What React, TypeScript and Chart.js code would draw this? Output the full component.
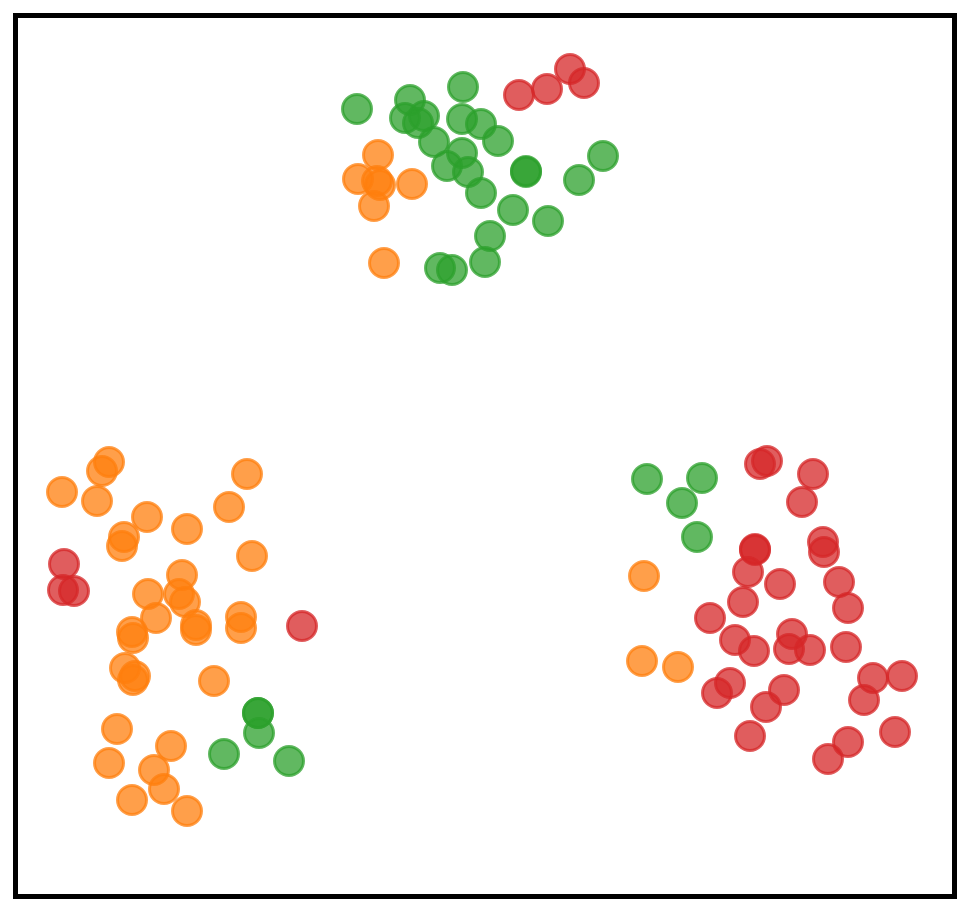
import React, { useEffect, useRef } from "react";
import { Chart, registerables } from "chart.js";

Chart.register(...registerables);

// Point positions (x, y in plot units; y grows downward)
const orangeX = [378, 358, 377, 380, 412, 374, 384,
  109, 102, 62, 97, 147, 124, 122, 187, 229, 247, 252, 182, 148, 179, 185, 156, 196, 196, 241, 241, 132, 133, 125, 133, 135, 214, 117, 109, 171, 154, 164, 132, 187,
  644, 642, 678];
const orangeY = [155, 179, 181, 185, 184, 206, 263,
  462, 471, 492, 501, 517, 537, 546, 529, 507, 474, 556, 575, 594, 594, 602, 618, 625, 630, 617, 628, 632, 638, 668, 680, 676, 681, 729, 763, 746, 770, 789, 800, 811,
  576, 661, 667];

const greenX = [357, 463, 410, 405, 424, 418, 434, 462, 481, 498, 462, 447, 468, 481, 526, 526, 579, 603, 513, 548, 490, 485, 440, 452,
  258, 258, 259, 224, 289,
  647, 702, 682, 697];
const greenY = [109, 87, 100, 118, 116, 123, 142, 119, 124, 141, 153, 166, 172, 193, 171, 172, 180, 156, 210, 221, 236, 262, 268, 270,
  713, 713, 733, 754, 761,
  479, 478, 503, 537];

const redX = [519, 547, 570, 584,
  64, 63, 74, 302,
  760, 767, 813, 802, 755, 755, 823, 824, 748, 780, 839, 848, 743, 710, 735, 754, 792, 789, 810, 846, 730, 717, 784, 766, 873, 902, 864, 750, 848, 828, 895];
const redY = [95, 89, 69, 83,
  564, 590, 591, 626,
  464, 461, 474, 502, 549, 550, 542, 552, 572, 584, 582, 608, 602, 618, 640, 651, 634, 649, 650, 647, 683, 693, 690, 707, 678, 676, 700, 736, 742, 759, 732];

const X_MIN = 16;
const X_MAX = 954;
const Y_MIN = 16;
const Y_MAX = 896;

const toPoints = (xs: number[], ys: number[]) => xs.map((x, i) => ({ x, y: ys[i] }));

const frame = {
  id: "frame",
  afterDraw(chart: any) {
    const { ctx, chartArea } = chart;
    ctx.save();
    ctx.strokeStyle = "#000";
    ctx.lineWidth = 5;
    ctx.strokeRect(chartArea.left - 0.5, chartArea.top - 0.5, chartArea.right - chartArea.left + 1, chartArea.bottom - chartArea.top + 1);
    ctx.restore();
  },
};

export default function App() {
  const ref = useRef<HTMLCanvasElement | null>(null);
  useEffect(() => {
    if (!ref.current) return;
    const mk = (label: string, xs: number[], ys: number[], rgb: string) => ({
      label,
      data: toPoints(xs, ys),
      backgroundColor: `rgba(${rgb},0.75)`,
      borderColor: `rgba(${rgb},0.75)`,
      borderWidth: 3,
      pointRadius: 14.5,
      pointHoverRadius: 14.5,
      clip: false as any,
    });
    const chart = new Chart(ref.current, {
      type: "scatter",
      data: {
        datasets: [
          mk("red", redX, redY, "214,39,40"),
          mk("green", greenX, greenY, "44,160,44"),
          mk("orange", orangeX, orangeY, "255,127,14"),
        ],
      },
      options: {
        animation: false,
        responsive: false,
        events: [],
        layout: { autoPadding: false, padding: { left: 16, top: 16, right: 14, bottom: 18 } },
        plugins: { legend: { display: false }, tooltip: { enabled: false } },
        scales: {
          x: { type: "linear", min: X_MIN, max: X_MAX, display: false },
          y: { type: "linear", min: Y_MIN, max: Y_MAX, reverse: true, display: false },
        },
      },
      plugins: [frame],
    });
    return () => chart.destroy();
  }, []);
  return (
    <div style={{ position: "absolute", left: 0, top: 0, width: 968, height: 914, background: "#fff" }}>
      <canvas ref={ref} width={968} height={914} />
    </div>
  );
}
